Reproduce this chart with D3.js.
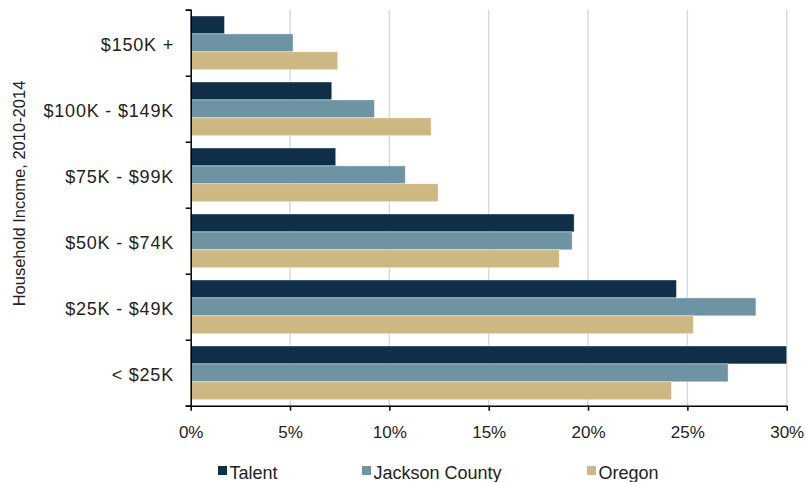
<!DOCTYPE html>
<html lang="en">
<head>
    <meta charset="UTF-8">
    <title>Household Income</title>
    <style type="text/css">
        body { margin: 0; background: #fff; }
        svg { display: block; font-family: "Liberation Sans", Arial, sans-serif; }
        .grid line { stroke: #d9d9d9; stroke-width: 1.5; }
        .axis path, .axis line { stroke: #000; stroke-width: 1.5; }
        .axis text { fill: #222; font-size: 17px; }
        .cat { fill: #222; font-size: 18px; letter-spacing: 0.8px; }
        .legend text { fill: #222; font-size: 18px; }
    </style>
</head>
<body>
    <svg></svg>

    <script src="https://d3js.org/d3.v7.min.js"></script>
    <script>
        // categories, top to bottom
        var categories = ["$150K +", "$100K - $149K", "$75K - $99K", "$50K - $74K", "$25K - $49K", "< $25K"];
        var seriesNames = ["Talent", "Jackson County", "Oregon"];
        var talent  = [1.7, 7.1, 7.3, 19.3, 24.45, 30.0];
        var jackson = [5.15, 9.25, 10.8, 19.2, 28.45, 27.05];
        var oregon  = [7.4, 12.1, 12.45, 18.55, 25.3, 24.2];
        var xTicks = [0, 5, 10, 15, 20, 25, 30];
        var colors = ["#0f2e48", "#6e93a3", "#cdb883"];

        var width = 806, height = 482;
        // note: "top" is taken by window.top, so use plot* names
        var plotLeft = 190.7, plotRight = 786.7, plotTop = 9.7, plotBottom = 405.7;

        var svg = d3.select("svg").attr("width", width).attr("height", height);

        var x = d3.scaleLinear().domain([0, 30]).range([plotLeft, plotRight]);
        var y0 = d3.scaleBand().domain(categories).range([plotTop, plotBottom]);
        var y1 = d3.scaleBand().domain(seriesNames).range([6.3, y0.bandwidth() - 6]);

        // gridlines
        svg.append("g").attr("class", "grid")
            .selectAll("line")
            .data(xTicks.slice(1))
            .enter().append("line")
            .attr("x1", function(d){ return x(d) })
            .attr("x2", function(d){ return x(d) })
            .attr("y1", plotTop)
            .attr("y2", plotBottom);

        var values = [talent, jackson, oregon];
        var rows = [];
        categories.forEach(function(c, i){
            seriesNames.forEach(function(s, j){
                rows.push({cat: c, series: s, value: values[j][i], color: colors[j]});
            });
        });

        svg.append("g").selectAll("rect")
            .data(rows)
            .enter().append("rect")
            .attr("x", x(0))
            .attr("y", function(d){ return y0(d.cat) + y1(d.series) })
            .attr("width", function(d){ return x(d.value) - x(0) })
            .attr("height", y1.bandwidth())
            .attr("fill", function(d){ return d.color })
            .attr("stroke", "rgba(255,255,255,0.5)")
            .attr("stroke-width", 0.8);

        // left axis: ticks at band boundaries
        var yEdge = d3.scaleLinear().domain([0, categories.length]).range([plotTop, plotBottom]);
        svg.append("g").attr("class", "axis")
            .attr("transform", "translate(" + plotLeft + ",0)")
            .call(d3.axisLeft(yEdge).ticks(categories.length).tickSize(5).tickSizeOuter(5).tickFormat(""));

        svg.append("g").selectAll("text")
            .data(categories)
            .enter().append("text")
            .attr("class", "cat")
            .attr("x", 174)
            .attr("y", function(d){ return y0(d) + y0.bandwidth() / 2 })
            .attr("dy", "0.48em")
            .attr("text-anchor", "end")
            .text(function(d){ return d });

        // bottom axis
        var xAxis = svg.append("g").attr("class", "axis")
            .attr("transform", "translate(0," + plotBottom + ")")
            .call(d3.axisBottom(x).tickValues(xTicks).tickSize(5).tickSizeOuter(0)
                .tickFormat(function(d){ return d + "%" }));
        xAxis.selectAll("text").attr("y", 20).attr("dy", "0.71em");

        // y title
        svg.append("text")
            .attr("transform", "translate(25," + 193.5 + ") rotate(-90)")
            .attr("text-anchor", "middle")
            .attr("fill", "#222")
            .style("font-size", "16.5px")
            .text("Household Income, 2010-2014");

        // legend
        var legendX = [218, 362, 587];
        var legend = svg.append("g").attr("class", "legend")
            .selectAll("g")
            .data(seriesNames)
            .enter().append("g")
            .attr("transform", function(d, i){ return "translate(" + legendX[i] + ",0)" });
        legend.append("rect")
            .attr("x", 0).attr("y", 466)
            .attr("width", 9).attr("height", 9)
            .attr("fill", function(d, i){ return colors[i] });
        legend.append("text")
            .attr("x", 11.5).attr("y", 479.3)
            .text(function(d){ return d });
    </script>
</body>
</html>
